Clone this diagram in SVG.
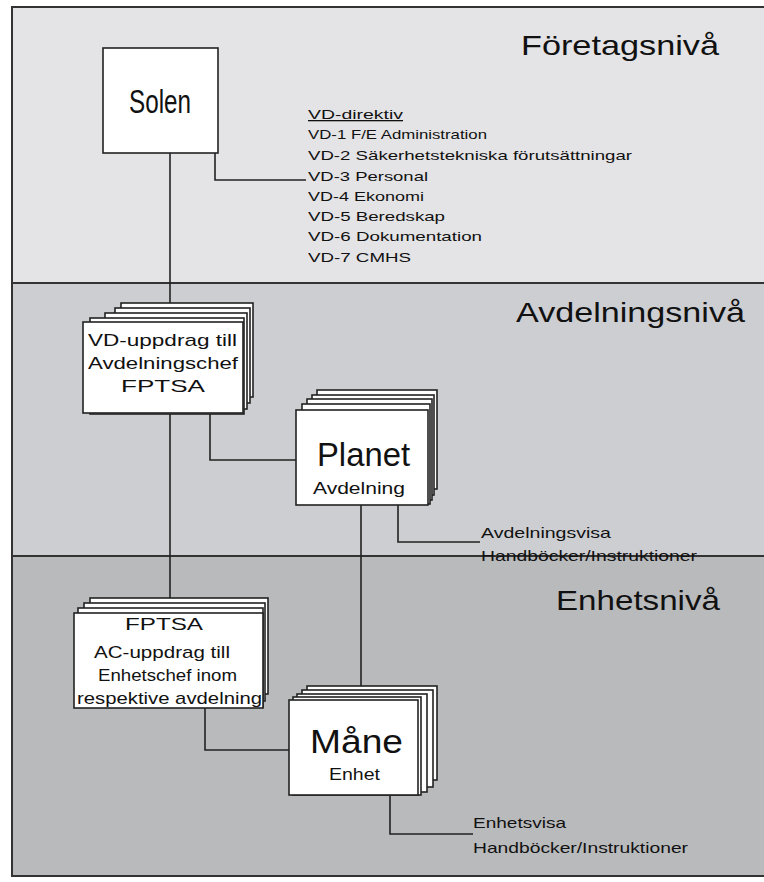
<svg xmlns="http://www.w3.org/2000/svg" width="764" height="882" viewBox="0 0 764 882">
  <style>
    .band { stroke: #333; stroke-width: 2; }
    .box { fill: #fff; stroke: #222; stroke-width: 1.6; }
    .wire { fill: none; stroke: #222; stroke-width: 1.6; }
    text { font-family: "Liberation Sans", Arial, sans-serif; fill: #111; }
    .level { font-size: 28px; }
    .big { font-size: 33px; }
    .sub { font-size: 16px; }
    .mid { font-size: 17px; }
    .list { font-size: 13px; }
    .note { font-size: 15px; }
  </style>

  <!-- level bands -->
  <rect class="band" x="12" y="7" width="770" height="276" fill="#e4e4e6"/>
  <rect class="band" x="12" y="283" width="770" height="273" fill="#cdced2"/>
  <rect class="band" x="12" y="556" width="770" height="320" fill="#b9babc"/>

  <text class="level" x="521" y="55" textLength="198" lengthAdjust="spacingAndGlyphs">Företagsnivå</text>
  <text class="level" x="516" y="322" textLength="229" lengthAdjust="spacingAndGlyphs">Avdelningsnivå</text>
  <text class="level" x="556" y="610" textLength="164" lengthAdjust="spacingAndGlyphs">Enhetsnivå</text>

  <!-- connectors -->
  <g id="connectors">
    <path class="wire" d="M170 153 V613"/>
    <path class="wire" d="M215 153 V180 H306"/>
    <path class="wire" d="M210 413 V460 H296"/>
    <path class="wire" d="M398 505 V542 H480"/>
    <path class="wire" d="M361 505 V700"/>
    <path class="wire" d="M205 708 V750 H289"/>
    <path class="wire" d="M390 795 V834 H473"/>
  </g>

  <!-- top node -->
  <g id="solen">
    <rect class="box" x="103" y="48" width="115" height="105"/>
    <text class="big" x="129" y="113" textLength="62" lengthAdjust="spacingAndGlyphs">Solen</text>
  </g>

  <g id="vd-direktiv">
    <text class="list" x="308" y="119" textLength="95" lengthAdjust="spacingAndGlyphs" text-decoration="underline">VD-direktiv</text>
    <text class="list" x="308" y="139" textLength="179" lengthAdjust="spacingAndGlyphs">VD-1 F/E Administration</text>
    <text class="list" x="308" y="160" textLength="324" lengthAdjust="spacingAndGlyphs">VD-2 Säkerhetstekniska förutsättningar</text>
    <text class="list" x="308" y="181" textLength="120" lengthAdjust="spacingAndGlyphs">VD-3 Personal</text>
    <text class="list" x="308" y="201" textLength="116" lengthAdjust="spacingAndGlyphs">VD-4 Ekonomi</text>
    <text class="list" x="308" y="221" textLength="137" lengthAdjust="spacingAndGlyphs">VD-5 Beredskap</text>
    <text class="list" x="308" y="241" textLength="174" lengthAdjust="spacingAndGlyphs">VD-6 Dokumentation</text>
    <text class="list" x="308" y="262" textLength="103" lengthAdjust="spacingAndGlyphs">VD-7 CMHS</text>
  </g>

  <!-- department level -->
  <g id="vd-uppdrag">
    <rect class="box" x="121" y="303" width="132" height="94"/>
    <rect class="box" x="115" y="308" width="135" height="95"/>
    <rect class="box" x="105" y="313" width="142" height="96"/>
    <rect class="box" x="90" y="318" width="154" height="96"/>
    <rect class="box" x="83" y="322" width="160" height="91"/>
    <text class="mid" x="88" y="346" textLength="149" lengthAdjust="spacingAndGlyphs">VD-uppdrag till</text>
    <text class="mid" x="88" y="369" textLength="150" lengthAdjust="spacingAndGlyphs">Avdelningschef</text>
    <text class="mid" x="121" y="392" textLength="84" lengthAdjust="spacingAndGlyphs">FPTSA</text>
  </g>

  <g id="planet">
    <rect class="box" x="317" y="390" width="120" height="99"/>
    <rect class="box" x="312" y="395" width="122" height="100"/>
    <rect class="box" x="307" y="399" width="125" height="101"/>
    <rect class="box" x="302" y="404" width="128" height="100"/>
    <rect class="box" x="296" y="410" width="132" height="95"/>
    <text class="big" x="317" y="466" textLength="93" lengthAdjust="spacingAndGlyphs">Planet</text>
    <text class="sub" x="313" y="494" textLength="92" lengthAdjust="spacingAndGlyphs">Avdelning</text>
  </g>

  <g id="avdelningsvisa">
    <text class="note" x="481" y="538" textLength="130" lengthAdjust="spacingAndGlyphs">Avdelningsvisa</text>
    <text class="note" x="481" y="561" textLength="216" lengthAdjust="spacingAndGlyphs">Handböcker/Instruktioner</text>
  </g>

  <!-- unit level -->
  <g id="fptsa-uppdrag">
    <rect class="box" x="90" y="598" width="178" height="96"/>
    <rect class="box" x="84" y="603" width="181" height="98"/>
    <rect class="box" x="78" y="608" width="185" height="99"/>
    <rect class="box" x="74" y="613" width="189" height="95"/>
    <text class="mid" x="125" y="630" textLength="78" lengthAdjust="spacingAndGlyphs">FPTSA</text>
    <text class="mid" x="94" y="658" textLength="136" lengthAdjust="spacingAndGlyphs">AC-uppdrag till</text>
    <text class="mid" x="98" y="681" textLength="139" lengthAdjust="spacingAndGlyphs">Enhetschef inom</text>
    <text class="mid" x="77" y="704" textLength="185" lengthAdjust="spacingAndGlyphs">respektive avdelning</text>
  </g>

  <g id="mane">
    <rect class="box" x="307" y="686" width="130" height="94"/>
    <rect class="box" x="302" y="690" width="131" height="97"/>
    <rect class="box" x="297" y="694" width="130" height="98"/>
    <rect class="box" x="293" y="697" width="128" height="98"/>
    <rect class="box" x="289" y="700" width="129" height="95"/>
    <text class="big" x="310" y="753" textLength="93" lengthAdjust="spacingAndGlyphs">Måne</text>
    <text class="sub" x="329" y="780" textLength="51" lengthAdjust="spacingAndGlyphs">Enhet</text>
  </g>

  <g id="enhetsvisa">
    <text class="note" x="473" y="828" textLength="93" lengthAdjust="spacingAndGlyphs">Enhetsvisa</text>
    <text class="note" x="473" y="853" textLength="215" lengthAdjust="spacingAndGlyphs">Handböcker/Instruktioner</text>
  </g>
</svg>
